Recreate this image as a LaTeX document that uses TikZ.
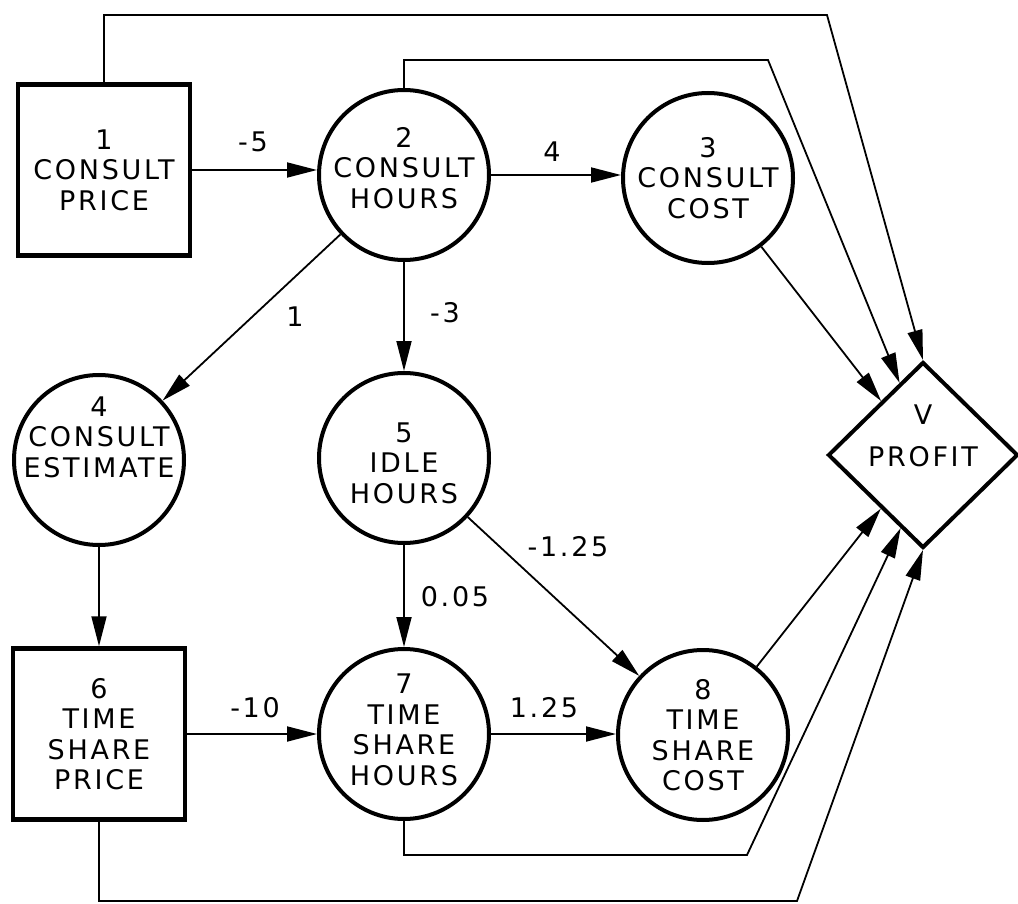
\documentclass[tikz,border=0pt]{standalone}
\usepackage{fontspec}
\setmainfont{DejaVu Sans}[LetterSpace=10]
\usetikzlibrary{arrows.meta,shapes.geometric}

\tikzset{
  dec/.style={draw,rectangle,line width=4.5pt,minimum width=172pt,minimum height=171pt,align=center,inner sep=0pt},
  var/.style={draw,circle,line width=4pt,minimum size=170pt,inner sep=0pt},
  val/.style={draw,diamond,line width=4pt,minimum width=190pt,minimum height=186pt,inner sep=0pt},
  txt/.style={align=center,inner sep=0pt},
  link/.style={line width=1.8pt,-{Triangle[length=30pt,width=15pt]}},
  wt/.style={inner sep=0pt}
}

\begin{document}
\begin{tikzpicture}[x=1pt,y=-1pt,font=\fontsize{27}{30.5}\selectfont]
  \useasboundingbox (0,0) rectangle (1018,904);
  % decision, chance and value nodes
  \node[dec] (n1) at (104,170) {1\\CONSULT\\PRICE};
  \node[var,label={[txt,yshift=7pt]center:2\\CONSULT\\HOURS}] (n2) at (404,175) {};
  \node[var,label={[txt]center:3\\CONSULT\\COST}] (n3) at (708,178) {};
  \node[var,label={[txt,yshift=23pt]center:4\\CONSULT\\ESTIMATE}] (n4) at (99,460) {};
  \node[var,label={[txt,yshift=-5pt]center:5\\IDLE\\HOURS}] (n5) at (404,458) {};
  \node[dec] (n6) at (99,734) {6\\TIME\\SHARE\\PRICE};
  \node[var,label={[txt,yshift=4pt]center:7\\TIME\\SHARE\\HOURS}] (n7) at (404,734) {};
  \node[var,label={[txt]center:8\\TIME\\SHARE\\COST}] (n8) at (703,735) {};
  \node[val,label={[txt,yshift=19pt]center:V\\[12pt]PROFIT}] (v) at (923,455) {};

  \draw[link] (n1.east) -- (n1.east -| n2.west);
  \draw[link] (n2.east) -- (n2.east -| n3.west);
  \draw[link] (n2) -- (n4);
  \draw[link] (n2) -- (n5);
  \draw[link] (n3) -- (v);
  \draw[link] (n4) -- (n6);
  \draw[link] (n5) -- (n7);
  \draw[link] (n5) -- (n8);
  \draw[link] (n6.east) -- (n6.east -| n7.west);
  \draw[link] (n7.east) -- (n7.east -| n8.west);
  \draw[link] (n8) -- (v);

  % long links round the outside to the value node
  \coordinate (c1) at (827,15);
  \coordinate (c2) at (768,60);
  \coordinate (c7) at (747,855);
  \coordinate (c6) at (797,901);
  \draw[link] (n1.north) |- (c1) -- (v.north);
  \draw[link] (n2.north) |- (c2) -- (v.108);
  \draw[link] (n7.south) |- (c7) -- (v.253);
  \draw[link] (n6.south) |- (c6) -- (v.south);

  % weights
  \node[wt] (w12) at (253,142) {-5};
  \node[wt] (w23) at (552,152) {4};
  \node[wt] (w24) at (295,317) {1};
  \node[wt] (w25) at (445,313) {-3};
  \node[wt] (w57) at (455,597) {0.05};
  \node[wt] (w58) at (568,547) {-1.25};
  \node[wt] (w67) at (255,708) {-10};
  \node[wt] (w78) at (544,708) {1.25};
\end{tikzpicture}
\end{document}
